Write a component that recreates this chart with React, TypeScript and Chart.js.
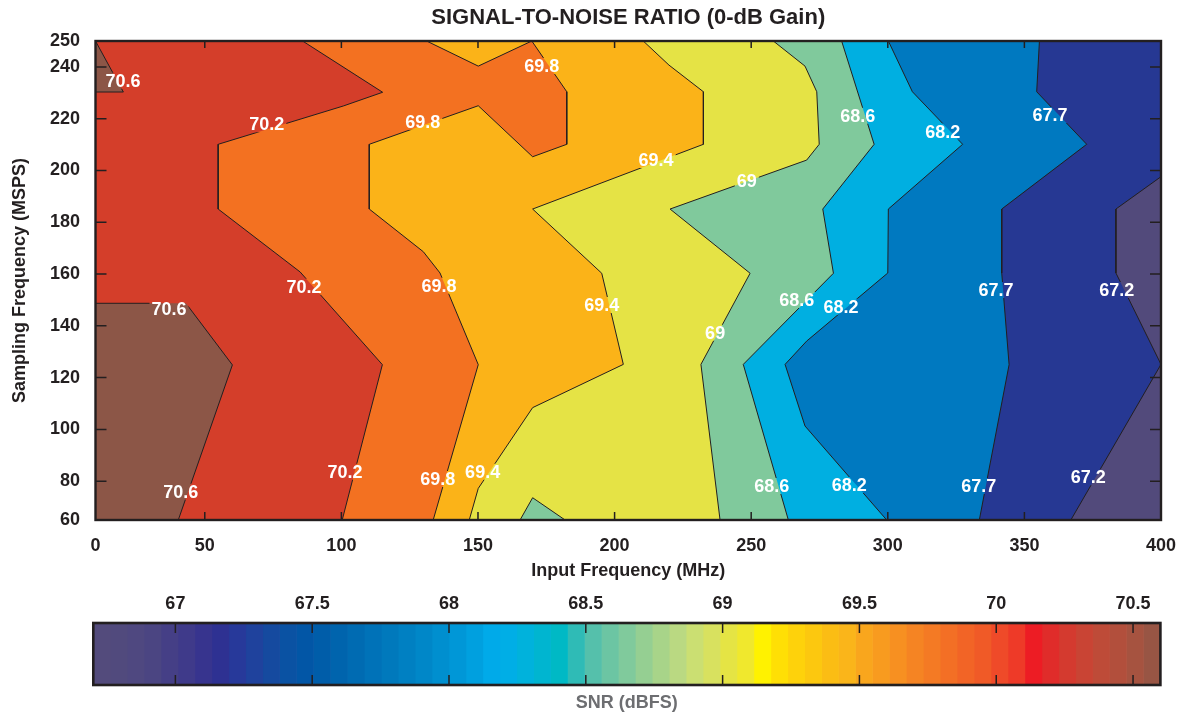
import React, { useEffect, useRef } from "react";
import { Chart, registerables } from "chart.js";

Chart.register(...registerables);

const FONT_FAMILY = "'Liberation Sans', Arial, Helvetica, sans-serif";
const INK = "#231f20";

// ---------- axes ----------
const X_MIN = 10;
const X_MAX = 400;
const Y_MIN = 65;
const Y_MAX = 250;
const xTickValues = [10, 50, 100, 150, 200, 250, 300, 350, 400];
const xTickLabels = ["0", "50", "100", "150", "200", "250", "300", "350", "400"];
const yTickValues = [65, 80, 100, 120, 140, 160, 180, 200, 220, 240, 250];
const yTickLabels = ["60", "80", "100", "120", "140", "160", "180", "200", "220", "240", "250"];

// ---------- contour lines (Input MHz, Sampling MSPS) ----------
const c70_6a = [[10, 250], [20.2, 230.3], [10, 230.3]];
const c70_6b = [[10, 148.7], [43.1, 148.7], [60.1, 124.9], [40.3, 65]];
const c70_2 = [[85.8, 250], [115.1, 230.2], [100.7, 224.9], [54.9, 210.1], [54.9, 185.1], [84.9, 160.8], [115, 125], [100.3, 65]];
const c69_8a = [[131.2, 250], [150.1, 240.3], [169.7, 250]];
const c69_8b = [[169.7, 250], [182.5, 230.4], [182.5, 210.1], [170, 205.3], [150.1, 225], [110.2, 210.1], [110.2, 185.1], [130, 168.6], [136.1, 160.4], [150.1, 125], [133.6, 65]];
const c69_4 = [[210.5, 250], [219.9, 240.7], [232.5, 230.4], [232.5, 210.1], [170, 185.1], [195.3, 160.3], [203.2, 125.1], [170, 108.4], [150.1, 77.2], [146.8, 65]];
const c69_0a = [[258.1, 250], [269.7, 240.3], [274, 230.4], [274.9, 210.1], [270.3, 204], [220.3, 185.1], [249.6, 160.3], [231.6, 125.1], [238.6, 65]];
const c69_0b = [[181.9, 65], [170, 73.6], [165.4, 65]];
const c68_6 = [[283.1, 250], [295, 210.1], [276.2, 185.1], [280.1, 160.3], [247.1, 125.1], [263.6, 65]];
const c68_2 = [[300.2, 250], [309, 230.4], [327.4, 210.1], [300.2, 185.1], [300, 160.4], [270.3, 134.1], [262.4, 125.1], [269.7, 101.3], [299.6, 65]];
const c67_7 = [[355.5, 250], [354.5, 230.4], [372.8, 210.1], [341.7, 185.1], [341.7, 160.4], [344.4, 125], [333.5, 65]];
const c67_2 = [[400, 197.6], [383.5, 185.1], [383.5, 160.4], [400, 125.1], [367, 65]];

// ---------- contour labels ----------
const labelText = ["70.6", "70.2", "69.8", "69.8", "69.4", "69", "68.6", "68.2", "67.7", "70.2", "70.6", "69.8", "69.4", "69", "68.6", "68.2", "67.7", "67.2", "70.6", "70.2", "69.8", "69.4", "68.6", "68.2", "67.7", "67.2"];
const labelX = [20.1, 72.7, 173.3, 129.8, 215.2, 248.4, 289, 320.1, 359.4, 86.3, 36.9, 135.7, 195.3, 236.8, 266.7, 282.9, 339.6, 383.8, 41.2, 101.3, 135.3, 151.7, 257.5, 285.9, 333.3, 373.4];
const labelY = [234.6, 217.8, 240.3, 218.8, 204, 195.9, 221.1, 215, 221.4, 155.1, 146.4, 155.5, 148, 137.3, 150, 147.4, 153.8, 153.8, 75.9, 83.6, 80.8, 83.6, 78.1, 78.5, 78.1, 81.5];

// ---------- band colours ----------
const bandColors = ["#524a7b", "#263893", "#0079c0", "#00afe1", "#80c99c", "#e5e345", "#fbb318", "#f37121", "#d43e2a", "#8c5647"];

// ---------- colour bar ----------
const CB_MIN = 66.7;
const CB_MAX = 70.6;
const cbTicks = [67, 67.5, 68, 68.5, 69, 69.5, 70, 70.5];
const cbTickLabels = ["67", "67.5", "68", "68.5", "69", "69.5", "70", "70.5"];
const cbColors = [
  "#534b7c", "#514a7d", "#4f4880", "#4b4582", "#453f86", "#3f3a8a", "#37348e", "#2e3192",
  "#27399a", "#1f429d", "#154a9f", "#0a52a3", "#0256a6", "#005da9", "#0064ad", "#006bb2",
  "#0072b8", "#0079bc", "#0080c2", "#0087c8", "#008fcf", "#0097d7", "#00a0df", "#00aae9",
  "#00aee6", "#00b2dc", "#00b5d0", "#00b9c5", "#2fbbb6", "#55c0ab", "#6cc5a3", "#80ca9c",
  "#95cf92", "#a8d489", "#bad982", "#cbdf72", "#d8e15f", "#e5e444", "#f0e82d", "#fff200",
  "#ffdf05", "#fed20b", "#fcc80f", "#fbbd14", "#fab51a", "#f9a61d", "#f89b1f", "#f79021",
  "#f58423", "#f47a24", "#f36f25", "#f26426", "#f05a27", "#ef4a29", "#ee3a28", "#ed1c24",
  "#e02c2a", "#d43a2f", "#c94434", "#be4b38", "#b24f3c", "#a65340", "#985544",
];

const TL: number[] = [X_MIN, Y_MAX];
const BL: number[] = [X_MIN, Y_MIN];
const TR: number[] = [X_MAX, Y_MAX];
const BR: number[] = [X_MAX, Y_MIN];

// super-level regions, bottom to top
const regions: { poly: number[][]; color: string }[] = [
  { poly: [TL, TR, BR, BL], color: bandColors[0] },
  { poly: [TL, TR, ...c67_2, BL], color: bandColors[1] },
  { poly: [TL, ...c67_7, BL], color: bandColors[2] },
  { poly: [TL, ...c68_2, BL], color: bandColors[3] },
  { poly: [TL, ...c68_6, BL], color: bandColors[4] },
  { poly: [TL, ...c69_0a, ...c69_0b, BL], color: bandColors[5] },
  { poly: [TL, ...c69_4, BL], color: bandColors[6] },
  { poly: [TL, ...c69_8a, ...c69_8b, BL], color: bandColors[7] },
  { poly: [TL, ...c70_2, BL], color: bandColors[8] },
  { poly: [...c70_6a], color: bandColors[9] },
  { poly: [...c70_6b, BL], color: bandColors[9] },
];
const contourLines = [c70_6a, c70_6b, c70_2, c69_8a, c69_8b, c69_4, c69_0a, c69_0b, c68_6, c68_2, c67_7, c67_2];

const tickFont = { family: FONT_FAMILY, size: 18, weight: "bold" as const };
const LABEL_FONT = `bold 18px ${FONT_FAMILY}`;

const toPts = (arr: number[][]) => arr.map(([x, y]) => ({ x, y }));

const mainOverlay = {
  id: "mainOverlay",
  beforeDatasetDraw(chart: any, args: any) {
    const ds = chart.data.datasets[args.index];
    if (!ds.contour) return;
    const ctx = chart.ctx;
    const xs = chart.scales.x;
    const ys = chart.scales.y;
    ctx.save();
    ctx.font = LABEL_FONT;
    ctx.beginPath();
    ctx.rect(0, 0, chart.width, chart.height);
    labelText.forEach((t, i) => {
      const w = ctx.measureText(t).width + 4;
      const h = 16;
      const cx = xs.getPixelForValue(labelX[i]);
      const cy = ys.getPixelForValue(labelY[i]);
      ctx.rect(cx - w / 2, cy - h / 2, w, h);
    });
    ctx.clip("evenodd");
  },
  afterDatasetDraw(chart: any, args: any) {
    const ds = chart.data.datasets[args.index];
    if (!ds.contour) return;
    chart.ctx.restore();
  },
  afterDatasetsDraw(chart: any) {
    const ctx = chart.ctx;
    const xs = chart.scales.x;
    const ys = chart.scales.y;
    const { left, right, top, bottom } = chart.chartArea;
    ctx.save();
    ctx.font = LABEL_FONT;
    ctx.fillStyle = "#ffffff";
    ctx.textAlign = "center";
    ctx.textBaseline = "middle";
    labelText.forEach((t, i) => {
      ctx.fillText(t, xs.getPixelForValue(labelX[i]), ys.getPixelForValue(labelY[i]) + 1);
    });
    ctx.strokeStyle = INK;
    ctx.lineWidth = 1.5;
    ctx.beginPath();
    xTickValues.forEach((v) => {
      const px = xs.getPixelForValue(v);
      if (px <= left + 2 || px >= right - 2) return;
      ctx.moveTo(px, bottom);
      ctx.lineTo(px, bottom - 8);
      ctx.moveTo(px, top);
      ctx.lineTo(px, top + 7);
    });
    yTickValues.forEach((v) => {
      const py = ys.getPixelForValue(v);
      if (py <= top + 2 || py >= bottom - 2) return;
      ctx.moveTo(left, py);
      ctx.lineTo(left + 11, py);
      ctx.moveTo(right, py);
      ctx.lineTo(right - 11, py);
    });
    ctx.stroke();
    ctx.lineWidth = 2.4;
    ctx.strokeRect(left, top, right - left, bottom - top);
    ctx.restore();
  },
};

const cbOverlay = {
  id: "cbOverlay",
  afterDatasetsDraw(chart: any) {
    const ctx = chart.ctx;
    const xs = chart.scales.x;
    const { left, right, top, bottom } = chart.chartArea;
    ctx.save();
    ctx.strokeStyle = INK;
    ctx.lineWidth = 1.5;
    ctx.beginPath();
    cbTicks.forEach((v) => {
      const px = xs.getPixelForValue(v);
      ctx.moveTo(px, top);
      ctx.lineTo(px, top + 10);
      ctx.moveTo(px, bottom);
      ctx.lineTo(px, bottom - 10);
    });
    ctx.stroke();
    ctx.lineWidth = 2.6;
    ctx.strokeRect(left, top, right - left, bottom - top);
    ctx.restore();
  },
};

function mainConfig(): any {
  const fills = regions.map((r, i) => ({
    type: "scatter",
    data: toPts([...r.poly, r.poly[0]]),
    showLine: true,
    fill: "shape",
    backgroundColor: r.color,
    borderColor: "transparent",
    borderWidth: 0,
    pointRadius: 0,
    pointHoverRadius: 0,
    tension: 0,
    order: 100 - i,
  }));
  const lines = contourLines.map((c) => ({
    type: "scatter",
    contour: true,
    data: toPts(c),
    showLine: true,
    fill: false,
    borderColor: INK,
    borderWidth: 1,
    pointRadius: 0,
    pointHoverRadius: 0,
    tension: 0,
    order: 0,
  }));
  return {
    type: "scatter",
    data: { datasets: [...fills, ...lines] },
    options: {
      responsive: false,
      animation: false,
      events: [],
      layout: { padding: { left: 0, right: 21, top: 0, bottom: 0 } },
      plugins: {
        legend: { display: false },
        tooltip: { enabled: false },
        title: {
          display: true,
          text: "SIGNAL-TO-NOISE RATIO (0-dB Gain)",
          color: INK,
          font: { family: FONT_FAMILY, size: 22, weight: "bold" },
          padding: { top: 4.8, bottom: 9.8 },
          fullSize: false,
        },
      },
      scales: {
        x: {
          type: "linear",
          min: X_MIN,
          max: X_MAX,
          position: "bottom",
          grid: { display: false, drawTicks: false },
          border: { display: false },
          afterBuildTicks: (s: any) => {
            s.ticks = xTickValues.map((v) => ({ value: v }));
          },
          ticks: {
            autoSkip: false,
            maxRotation: 0,
            padding: 15,
            color: INK,
            font: tickFont,
            callback: (_v: any, i: number) => xTickLabels[i],
          },
          title: {
            display: true,
            text: "Input Frequency (MHz)",
            color: INK,
            font: tickFont,
            padding: { top: 0, bottom: 8.2 },
          },
          afterFit: (s: any) => {
            s.height = 70;
            s.paddingLeft = 0;
            s.paddingRight = 0;
          },
        },
        y: {
          type: "linear",
          min: Y_MIN,
          max: Y_MAX,
          position: "left",
          grid: { display: false, drawTicks: false },
          border: { display: false },
          afterBuildTicks: (s: any) => {
            s.ticks = yTickValues.map((v) => ({ value: v }));
          },
          ticks: {
            autoSkip: false,
            padding: 15.5,
            color: INK,
            font: tickFont,
            callback: (_v: any, i: number) => yTickLabels[i],
          },
          title: {
            display: true,
            text: "Sampling Frequency (MSPS)",
            color: INK,
            font: tickFont,
            padding: { top: 9.2, bottom: 0 },
          },
          afterFit: (s: any) => {
            s.width = 95.5;
          },
        },
      },
    },
    plugins: [mainOverlay],
  };
}

function cbConfig(): any {
  const n = cbColors.length;
  const step = (CB_MAX - CB_MIN) / n;
  const datasets = cbColors.map((c, i) => ({
    data: [[CB_MIN + i * step, CB_MIN + (i + 1) * step]],
    backgroundColor: c,
    borderWidth: 0,
    grouped: false,
    barPercentage: 1,
    categoryPercentage: 1,
  }));
  return {
    type: "bar",
    data: { labels: ["SNR"], datasets },
    options: {
      indexAxis: "y",
      responsive: false,
      animation: false,
      events: [],
      layout: { padding: { left: 93.3, right: 21.6, top: 0, bottom: 0 } },
      plugins: {
        legend: { display: false },
        tooltip: { enabled: false },
        title: {
          display: true,
          position: "bottom",
          text: "SNR (dBFS)",
          color: "#6d6e71",
          font: tickFont,
          padding: { top: 7.2, bottom: 1.2 },
          fullSize: false,
        },
      },
      scales: {
        x: {
          type: "linear",
          position: "top",
          min: CB_MIN,
          max: CB_MAX,
          grid: { display: false, drawTicks: false },
          border: { display: false },
          afterBuildTicks: (s: any) => {
            s.ticks = cbTicks.map((v) => ({ value: v }));
          },
          ticks: {
            autoSkip: false,
            maxRotation: 0,
            padding: 8,
            color: INK,
            font: tickFont,
            callback: (_v: any, i: number) => cbTickLabels[i],
          },
          afterFit: (s: any) => {
            s.height = 33;
            s.paddingLeft = 0;
            s.paddingRight = 0;
          },
        },
        y: { display: false },
      },
    },
    plugins: [cbOverlay],
  };
}

export default function App() {
  const mainRef = useRef<HTMLCanvasElement>(null);
  const cbRef = useRef<HTMLCanvasElement>(null);
  useEffect(() => {
    const main = new Chart(mainRef.current as HTMLCanvasElement, mainConfig());
    const cb = new Chart(cbRef.current as HTMLCanvasElement, cbConfig());
    return () => {
      main.destroy();
      cb.destroy();
    };
  }, []);
  return (
    <div style={{ position: "fixed", left: 0, top: 0, width: 1182, height: 715, background: "#ffffff" }}>
      <canvas ref={mainRef} width={1182} height={590} style={{ position: "absolute", left: 0, top: 0 }} />
      <canvas ref={cbRef} width={1182} height={125} style={{ position: "absolute", left: 0, top: 590 }} />
    </div>
  );
}
